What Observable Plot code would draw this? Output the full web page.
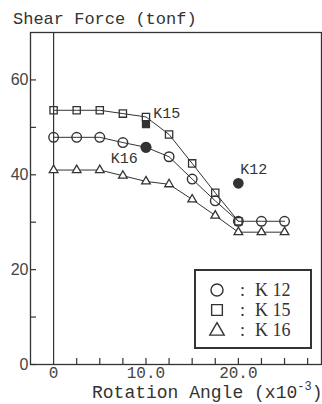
<!DOCTYPE html>
<html>
<head>
<meta charset="utf-8">
<script src="https://cdn.jsdelivr.net/npm/d3@7"></script>
<script src="https://cdn.jsdelivr.net/npm/@observablehq/plot@0.6"></script>
<style>
  html, body { margin: 0; padding: 0; background: #fff; }
  #wrap { position: relative; width: 322px; height: 404px; overflow: hidden; }
  #wrap svg { position: absolute; left: 0; top: 0; }
  .ttl { position: absolute; font-family: "Liberation Mono", "DejaVu Sans Mono", monospace; color: #333; white-space: nowrap; line-height: 12px; }
  .ttl sup { font-size: 12px; vertical-align: 0; position: relative; top: -8px; line-height: 0; }
</style>
</head>
<body>
<div id="wrap"></div>
<script>
// ---- data ----
const angles = [0, 2.5, 5, 7.5, 10, 12.5, 15, 17.5, 20, 22.5, 25];
const k12 = [47.9, 47.9, 47.9, 46.8, 45.8, 43.8, 39.1, 34.5, 30.2, 30.2, 30.2];
const k15 = [53.6, 53.6, 53.6, 52.9, 52.2, 48.5, 42.4, 36.2, 30.2];
const k16 = [41.0, 41.0, 41.0, 39.8, 38.6, 38.0, 34.8, 31.4, 27.9, 27.9, 27.9];
// filled (solid) markers
const k12SolidX = [10, 20];
const k12SolidY = [45.8, 38.2];
const k15SolidX = [10];
const k15SolidY = [50.7];
// curve labels
const labelText = ["K15", "K16", "K12"];
const labelX = [10.8, 6.2, 20.2];
const labelY = [52.9, 43.6, 41.1];
// axes ticks
const yMajor = [0, 20, 40, 60];
const yAll = [0, 10, 20, 30, 40, 50, 60];
const xLabels = [0, 10, 20];
const xMinor = [2.5, 5, 7.5, 10, 12.5, 15, 17.5, 20, 22.5, 25, 27.5];
// legend
const legendNames = ["K 12", "K 15", "K 16"];
const legendSymbols = ["circle", "square", "triangle"];

const ink = "#333";
const toRows = (xs, ys) => ys.map((y, i) => ({x: xs[i], y}));
const s12 = toRows(angles, k12);
const s15 = toRows(angles, k15);
const s16 = toRows(angles, k16);
const f12 = toRows(k12SolidX, k12SolidY);
const f15 = toRows(k15SolidX, k15SolidY);
const labels = labelText.map((t, i) => ({t, x: labelX[i], y: labelY[i]}));

const mono = "Liberation Mono, DejaVu Sans Mono, monospace";

const chart = Plot.plot({
  width: 322,
  height: 404,
  marginTop: 32,
  marginLeft: 30,
  marginRight: 1,
  marginBottom: 40,
  style: {background: "transparent", color: ink},
  x: {domain: [-2.5, 29]},
  y: {domain: [0, 70]},
  marks: [
    Plot.frame({stroke: ink, strokeWidth: 1.3}),
    Plot.ruleX([0], {stroke: ink, strokeWidth: 1.2}),
    // inward ticks
    Plot.axisY({ticks: yAll, tickSize: 6, dx: 6, tickFormat: () => "", label: null, stroke: ink, strokeWidth: 1.2}),
    Plot.axisY({ticks: yMajor, tickSize: 0, tickPadding: 2, label: null, fontSize: 16, fontFamily: "Liberation Sans, Arial, sans-serif", fill: "#444"}),
    Plot.axisX({ticks: xMinor, tickSize: 6, dy: -6, tickFormat: () => "", label: null, stroke: ink, strokeWidth: 1.2}),
    Plot.axisX({ticks: xLabels, tickSize: 0, tickPadding: 2, label: null, fontSize: 16, fontFamily: mono, fill: "#444",
      tickFormat: d => d === 0 ? "0" : d.toFixed(1)}),
    // lines
    Plot.line(s15, {x: "x", y: "y", stroke: ink, strokeWidth: 1}),
    Plot.line(s12, {x: "x", y: "y", stroke: ink, strokeWidth: 1}),
    Plot.line(s16, {x: "x", y: "y", stroke: ink, strokeWidth: 1}),
    // solid markers
    Plot.dot(f15, {x: "x", y: "y", symbol: "square", r: 3.8, fill: ink, stroke: ink}),
    // open markers
    Plot.dot(s15, {x: "x", y: "y", symbol: "square", r: 4.1, fill: "none", stroke: ink, strokeWidth: 1.3}),
    Plot.dot(s12, {x: "x", y: "y", symbol: "circle", r: 4.8, fill: "none", stroke: ink, strokeWidth: 1.4}),
    Plot.dot(s16, {x: "x", y: "y", symbol: "triangle", r: 3.2, fill: "white", stroke: ink, strokeWidth: 1.3}),
    Plot.dot(f12, {x: "x", y: "y", symbol: "circle", r: 4.6, fill: ink, stroke: ink}),
    // labels
    Plot.text(labels, {x: "x", y: "y", text: "t", textAnchor: "start", fontSize: 15, fontFamily: mono, fill: ink})
  ]
});

const wrap = document.getElementById("wrap");
wrap.appendChild(chart);

// titles
const yt = document.createElement("div");
yt.className = "ttl";
yt.style.left = "13px"; yt.style.top = "14px"; yt.style.fontSize = "17px";
yt.textContent = "Shear Force (tonf)";
wrap.appendChild(yt);

const xt = document.createElement("div");
xt.className = "ttl";
xt.style.left = "92px"; xt.style.top = "387px"; xt.style.fontSize = "18px";
xt.innerHTML = "Rotation Angle (x10<sup>-3</sup>)";
wrap.appendChild(xt);

// legend
const lg = d3.create("svg").attr("width", 120).attr("height", 82)
  .style("left", "194px").style("top", "269px");
lg.append("rect").attr("x", 1).attr("y", 1).attr("width", 116).attr("height", 78)
  .attr("fill", "white").attr("stroke", ink).attr("stroke-width", 2);
const symMap = {circle: d3.symbolCircle, square: d3.symbolSquare, triangle: d3.symbolTriangle};
const symSize = {circle: 115, square: 115, triangle: 90};
legendNames.forEach((name, i) => {
  const cy = 21 + i * 20;
  lg.append("path")
    .attr("d", d3.symbol(symMap[legendSymbols[i]], symSize[legendSymbols[i]])())
    .attr("transform", `translate(23,${cy + (legendSymbols[i] === "triangle" ? 1 : 0)})`)
    .attr("fill", "none").attr("stroke", ink).attr("stroke-width", 1.4);
  lg.append("text").attr("x", 46).attr("y", cy).attr("dy", "0.35em")
    .attr("font-family", "Liberation Serif, Times New Roman, serif").attr("font-size", 18)
    .attr("fill", ink).text(":");
  lg.append("text").attr("x", 61).attr("y", cy).attr("dy", "0.35em")
    .attr("font-family", "Liberation Serif, Times New Roman, serif").attr("font-size", 18)
    .attr("fill", ink).text(name);
});
wrap.appendChild(lg.node());
</script>
</body>
</html>
